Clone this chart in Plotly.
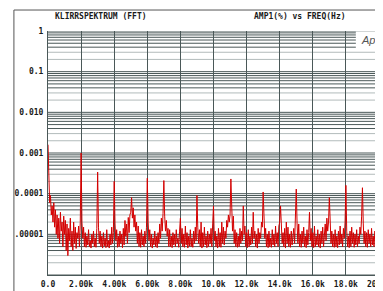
import plotly.graph_objects as go

# FFT bin spacing (Hz) and amplitudes (%) (one row = 1 kHz)
bin_hz = 50
amp_pct = [
    1.6e-3, 1.2e-4, 6e-5, 9e-5, 3e-5, 5e-5, 2e-5, 6e-5, 1.5e-5, 4e-5, 1e-5, 3e-5, 8e-6, 2.5e-5, 6e-6, 3.5e-5, 1.2e-5, 2e-5, 5e-6, 2.8e-5,
    1e-5, 2.2e-5, 4e-6, 1.8e-5, 3e-6, 1.4e-5, 7e-6, 2.5e-5, 5e-6, 1.2e-5, 4e-6, 2e-5, 6e-6, 1.5e-5, 4.5e-6, 1.1e-5, 8e-6, 1.6e-5, 5e-6, 2e-5,
    1.0e-3, 2e-5, 8e-6, 1.5e-5, 5e-6, 1.1e-5, 4.8e-6, 9e-6, 5.5e-6, 1.3e-5, 5e-6, 7e-6, 4.6e-6, 1e-5, 6e-6, 1.2e-5, 5e-6, 8e-6, 4.8e-6, 1.4e-5,
    3.4e-4, 1.5e-5, 6e-6, 1.2e-5, 5e-6, 9e-6, 4.6e-6, 1.1e-5, 5.2e-6, 8e-6, 4.7e-6, 1.3e-5, 5e-6, 7e-6, 4.6e-6, 1e-5, 5.5e-6, 1.5e-5, 6e-6, 1.1e-5,
    2.0e-4, 1.8e-5, 7e-6, 1.3e-5, 4.8e-6, 9e-6, 5e-6, 1.2e-5, 6e-6, 1e-5, 4.7e-6, 1.4e-5, 5.5e-6, 2.2e-5, 9e-6, 1.8e-5, 6e-6, 2.6e-5, 1.1e-5, 3e-5,
    3.5e-5, 8e-5, 2.5e-5, 4.5e-5, 1.5e-5, 3e-5, 1.2e-5, 2e-5, 6e-6, 1.6e-5, 5e-6, 1.1e-5, 4.8e-6, 1.3e-5, 5.5e-6, 9e-6, 5e-6, 1.2e-5, 6e-6, 1.5e-5,
    2.4e-4, 2e-5, 7e-6, 1.3e-5, 5e-6, 1e-5, 4.6e-6, 8e-6, 5.5e-6, 1.2e-5, 5e-6, 9e-6, 4.7e-6, 1.1e-5, 6e-6, 1.8e-5, 8e-6, 2.5e-5, 1.2e-5, 3.2e-5,
    2.1e-4, 2.8e-5, 1.2e-5, 2.2e-5, 9e-6, 1.4e-5, 5e-6, 1.3e-5, 5e-6, 9e-6, 4.7e-6, 1.1e-5, 5.5e-6, 1e-5, 5e-6, 1.3e-5, 6e-6, 8e-6, 4.8e-6, 1.2e-5,
    2.5e-5, 6e-6, 1.4e-5, 5e-6, 1e-5, 4.8e-6, 1.6e-5, 5.5e-6, 1.1e-5, 4.6e-6, 9e-6, 5.2e-6, 1.3e-5, 5e-6, 8e-6, 4.8e-6, 1.2e-5, 6e-6, 1.5e-5, 7e-6,
    9e-5, 1.5e-5, 6e-6, 1.3e-5, 5e-6, 2e-5, 4.6e-6, 1.1e-5, 5e-6, 1.5e-5, 5.5e-6, 9e-6, 4.7e-6, 1.2e-5, 5e-6, 1e-5, 6e-6, 1.4e-5, 5e-6, 1.8e-5,
    5e-5, 7e-6, 1.2e-5, 5e-6, 9e-6, 4.6e-6, 1.4e-5, 5e-6, 1.1e-5, 4.8e-6, 2e-5, 6e-6, 1.5e-5, 5.5e-6, 1.2e-5, 8e-6, 2.2e-5, 1.5e-5, 3e-5, 2e-5,
    3e-5, 2.3e-4, 2.5e-5, 1.2e-5, 2.8e-5, 6e-6, 1.3e-5, 5e-6, 1.1e-5, 4.8e-6, 9e-6, 5e-6, 1.4e-5, 6e-6, 1.2e-5, 7e-6, 5e-5, 1e-5, 1.6e-5, 5e-6,
    1.1e-5, 4.7e-6, 1.3e-5, 5e-6, 9e-6, 5.5e-6, 1.5e-5, 6e-6, 3.5e-5, 8e-6, 1.2e-5, 5e-6, 1e-5, 4.6e-6, 1.4e-5, 6e-6, 1.1e-5, 8e-6, 2e-5, 1.5e-5,
    1.1e-4, 2e-5, 8e-6, 1.4e-5, 5e-6, 1e-5, 4.7e-6, 1.2e-5, 5e-6, 8e-6, 4.8e-6, 1.3e-5, 5.5e-6, 1e-5, 5e-6, 1.6e-5, 6e-6, 1.1e-5, 5e-6, 1.6e-5,
    2e-5, 5e-5, 1.2e-5, 6e-6, 1.1e-5, 5e-6, 1.4e-5, 4.6e-6, 2e-5, 6e-6, 1.5e-5, 5e-6, 1e-5, 4.8e-6, 1.2e-5, 5.5e-6, 9e-6, 1.4e-5, 6e-6, 2.2e-5,
    1.3e-4, 1.8e-5, 6e-6, 1.8e-5, 5e-6, 1e-5, 4.8e-6, 1.2e-5, 6e-6, 1.5e-5, 5e-6, 9e-6, 4.7e-6, 1.3e-5, 5.5e-6, 1.1e-5, 3.5e-5, 7e-6, 1.4e-5, 5e-6,
    1.1e-5, 4.7e-6, 1.6e-5, 5e-6, 9e-6, 5.5e-6, 1.3e-5, 5e-6, 1e-5, 4.6e-6, 1.2e-5, 6e-6, 1.5e-5, 5e-6, 9e-6, 1.8e-5, 7e-6, 2.5e-5, 1.2e-5, 2e-5,
    8e-5, 1.5e-5, 6e-6, 1.2e-5, 5e-6, 1e-5, 4.8e-6, 1.3e-5, 5e-6, 9e-6, 4.7e-6, 1.2e-5, 5.5e-6, 1.6e-5, 6e-6, 1e-5, 5e-6, 1.4e-5, 8e-6, 2e-5,
    1.6e-4, 1.2e-5, 5e-6, 9e-6, 4.7e-6, 1.2e-5, 5e-6, 1.5e-5, 6e-6, 1.1e-5, 4.8e-6, 1e-5, 5.5e-6, 1.3e-5, 5e-6, 9e-6, 6e-6, 1.5e-5, 1e-5, 2.8e-5,
    1.4e-4, 1.8e-5, 6e-6, 1.2e-5, 5e-6, 1.1e-5, 4.8e-6, 1.3e-5, 6e-6, 1e-5, 5e-6, 1.4e-5, 5.5e-6, 9e-6, 5e-6, 1.2e-5, 6e-6, 1.6e-5, 1e-5, 2e-5,
    3.5e-5,
]
freq_hz = [i * bin_hz for i in range(len(amp_pct))]

x_tickvals = [0, 2000, 4000, 6000, 8000, 10000, 12000, 14000, 16000, 18000, 20000]
x_ticktext = ["0.0", "2.00k", "4.00k", "6.00k", "8.00k", "10.0k", "12.0k",
              "14.0k", "16.0k", "18.0k", "20.0k"]
y_tickvals = [1, 0.1, 0.01, 0.001, 0.0001, 0.00001]
y_ticktext = ["1", "0.1", "0.010", "0.001", "0.0001", ".00001"]

title_left = "KLIRRSPEKTRUM (FFT)"
title_right = "AMP1(%) vs FREQ(Hz)"

DARK = "#4a5858"
GRAY = "#b2bbbb"
FONT = dict(family="DejaVu Sans Mono", size=8, color="#1a1a1a", weight="bold")

fig = go.Figure()
fig.add_trace(go.Scatter(x=freq_hz, y=amp_pct, mode="lines",
                         line=dict(color="#d40000", width=1), hoverinfo="skip"))

shapes = []
decades = [1e-6, 1e-5, 1e-4, 1e-3, 1e-2, 1e-1]
for d in decades:
    for m in range(2, 10):
        shapes.append(dict(type="line", xref="paper", yref="y", x0=0, x1=1,
                           y0=m * d, y1=m * d, layer="below",
                           line=dict(color=GRAY if m <= 3 else DARK, width=1)))
    shapes.append(dict(type="line", xref="paper", yref="y", x0=0, x1=1,
                       y0=d, y1=d, layer="below", line=dict(color=DARK, width=1)))
shapes.append(dict(type="line", xref="paper", yref="y", x0=0, x1=1,
                   y0=1, y1=1, layer="below", line=dict(color=DARK, width=1)))
# outer page frame
shapes.append(dict(type="rect", xref="paper", yref="paper",
                   x0=-0.103, x1=1.2, y0=-0.3, y1=1.086,
                   line=dict(color="#555555", width=1), fillcolor="rgba(0,0,0,0)"))
# Ap logo box
shapes.append(dict(type="rect", xref="paper", yref="paper",
                   x0=0.93, x1=1.0, y0=0.926, y1=0.998, layer="above",
                   line=dict(width=0), fillcolor="white"))

fig.update_layout(
    width=375, height=283,
    margin=dict(l=40, r=4, t=23, b=16, autoexpand=False),
    paper_bgcolor="white", plot_bgcolor="white",
    showlegend=False,
    shapes=shapes,
    xaxis=dict(range=[0, 20000], tickvals=x_tickvals, ticktext=x_ticktext,
               showgrid=True, gridcolor=DARK, gridwidth=1, zeroline=False,
               showline=True, linecolor=DARK, linewidth=1, automargin=False,
               ticks="", tickfont=FONT, ticklabelstandoff=1,
               ticklabeloverflow="allow"),
    yaxis=dict(type="log", range=[-6, 0], tickvals=y_tickvals, ticktext=y_ticktext,
               showgrid=False, zeroline=False, showline=True, linecolor=DARK,
               linewidth=1, ticks="", tickfont=FONT, ticklabelstandoff=2,
               automargin=False),
    annotations=[
        dict(text=title_left, xref="paper", yref="paper", x=0.015, y=1.061,
             xanchor="left", yanchor="middle", showarrow=False, font=FONT),
        dict(text=title_right, xref="paper", yref="paper", x=0.616, y=1.061,
             xanchor="left", yanchor="middle", showarrow=False, font=FONT),
        dict(text="<i>Ap</i>", xref="paper", yref="paper", x=0.967, y=0.963,
             xanchor="center", yanchor="middle", showarrow=False,
             font=dict(family="Liberation Sans", size=11, color="#555555")),
    ],
)

fig.write_html("out.html")
